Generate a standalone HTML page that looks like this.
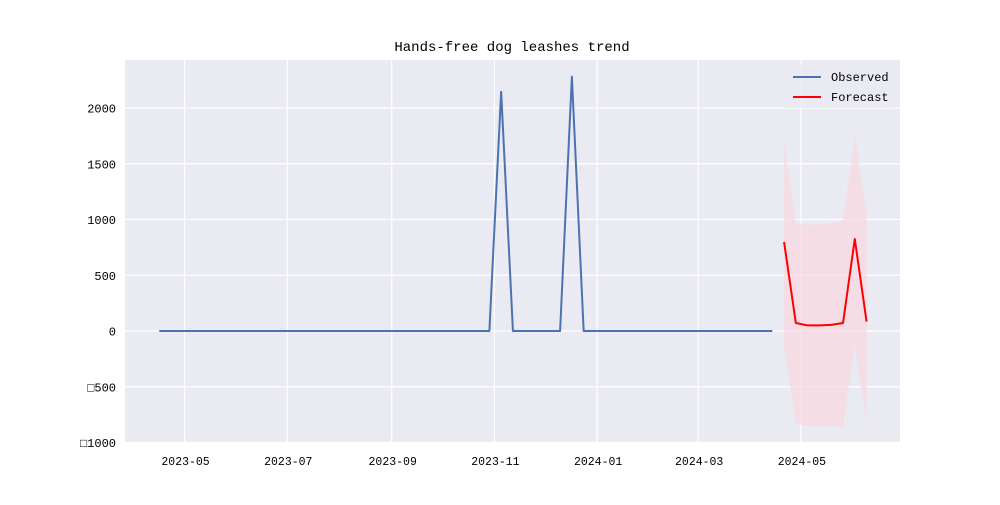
<!DOCTYPE html>
<html><head><meta charset="utf-8"><style>
body{margin:0;background:#fff;}
svg text{font-family:"Liberation Mono","WenQuanYi Zen Hei",monospace;}
</style></head><body>
<svg id="chart" width="1000" height="500" xmlns="http://www.w3.org/2000/svg">
<rect x="0" y="0" width="1000" height="500" fill="#fff"/>
<rect x="125" y="60" width="775" height="383" fill="#eaeaf2"/>
<g id="grid"></g>
<g id="band"></g>
<g id="lines"></g>
<g id="ticks"></g>
<text x="512" y="51" text-anchor="middle" font-size="14" fill="#000">Hands-free dog leashes trend</text>
<g>
<rect x="784" y="64" width="110" height="44" fill="#eaeaf2" opacity="0.8"/>
<line x1="793" y1="77" x2="821" y2="77" stroke="#4c72b0" stroke-width="2"/>
<text x="831" y="81" font-size="12">Observed</text>
<line x1="793" y1="97" x2="821" y2="97" stroke="#ff0000" stroke-width="2"/>
<text x="831" y="101" font-size="12">Forecast</text>
</g>
</svg>
<script>
const obsStart = "2023-04-16";
const observed = [0,0,0,0,0,0,0,0,0,0,0,0,0,0,0,0,0,0,0,0,0,0,0,0,0,0,0,0,0,2146,0,0,0,0,0,2281,0,0,0,0,0,0,0,0,0,0,0,0,0,0,0,0,0];
const fcStart = "2024-04-21";
const forecast = [798,72,50,50,55,72,825,84];
const upper = [1698,971,953,955,962,995,1743,1040];
const lower = [-126,-834,-852,-852,-852,-858,-126,-825];
const yTicks = [-1000,-500,0,500,1000,1500,2000];
const yTickLabels = ["\u25A11000","\u25A1500","0","500","1000","1500","2000"];
const xTicks = ["2023-05-01","2023-07-01","2023-09-01","2023-11-01","2024-01-01","2024-03-01","2024-05-01"];
const xTickLabels = ["2023-05","2023-07","2023-09","2023-11","2024-01","2024-03","2024-05"];

const NS="http://www.w3.org/2000/svg";
const t0=Date.parse(obsStart);
function days(d){return (Date.parse(d)-t0)/86400000;}
function X(dy){return 159.3+dy*1.684;}
function Y(v){return 331-v*0.1115;}
function mk(tag,attrs,parent){const e=document.createElementNS(NS,tag);for(const k in attrs)e.setAttribute(k,attrs[k]);document.getElementById(parent).appendChild(e);return e;}

yTicks.forEach((v,i)=>{
  const g=mk('line',{x1:125,x2:900,y1:Y(v),y2:Y(v),stroke:'#fff','stroke-width':1.2},'grid');
  
  
  const t=mk('text',{x:116,y:Y(v)+4.5,'text-anchor':'end','font-size':12,fill:'#000'},'ticks');
  t.textContent=yTickLabels[i];
  
  
});
xTicks.forEach((d,i)=>{
  const x=X(days(d));
  const g=mk('line',{x1:x,x2:x,y1:60,y2:443,stroke:'#fff','stroke-width':1.2},'grid');
  
  
  const t=mk('text',{x:x+1,y:465,'text-anchor':'middle','font-size':11.5,fill:'#000'},'ticks');
  t.textContent=xTickLabels[i];
  
  
});
const f0=days(fcStart);
let up=[],lo=[];
upper.forEach((v,i)=>up.push(X(f0+7*i)+','+Y(v)));
lower.forEach((v,i)=>lo.unshift(X(f0+7*i)+','+Y(v)));
const band=mk('polygon',{points:up.concat(lo).join(' '),fill:'#f8d7e0',opacity:0.7},'band');


const op=observed.map((v,i)=>X(7*i)+','+Y(v)).join(' ');
const ol=mk('polyline',{points:op,fill:'none',stroke:'#4c72b0','stroke-width':2,'stroke-linejoin':'round'},'lines');


const fp=forecast.map((v,i)=>X(f0+7*i)+','+Y(v)).join(' ');
const fl=mk('polyline',{points:fp,fill:'none',stroke:'#ff0000','stroke-width':2,'stroke-linejoin':'round'},'lines');


</script>
</body></html>
